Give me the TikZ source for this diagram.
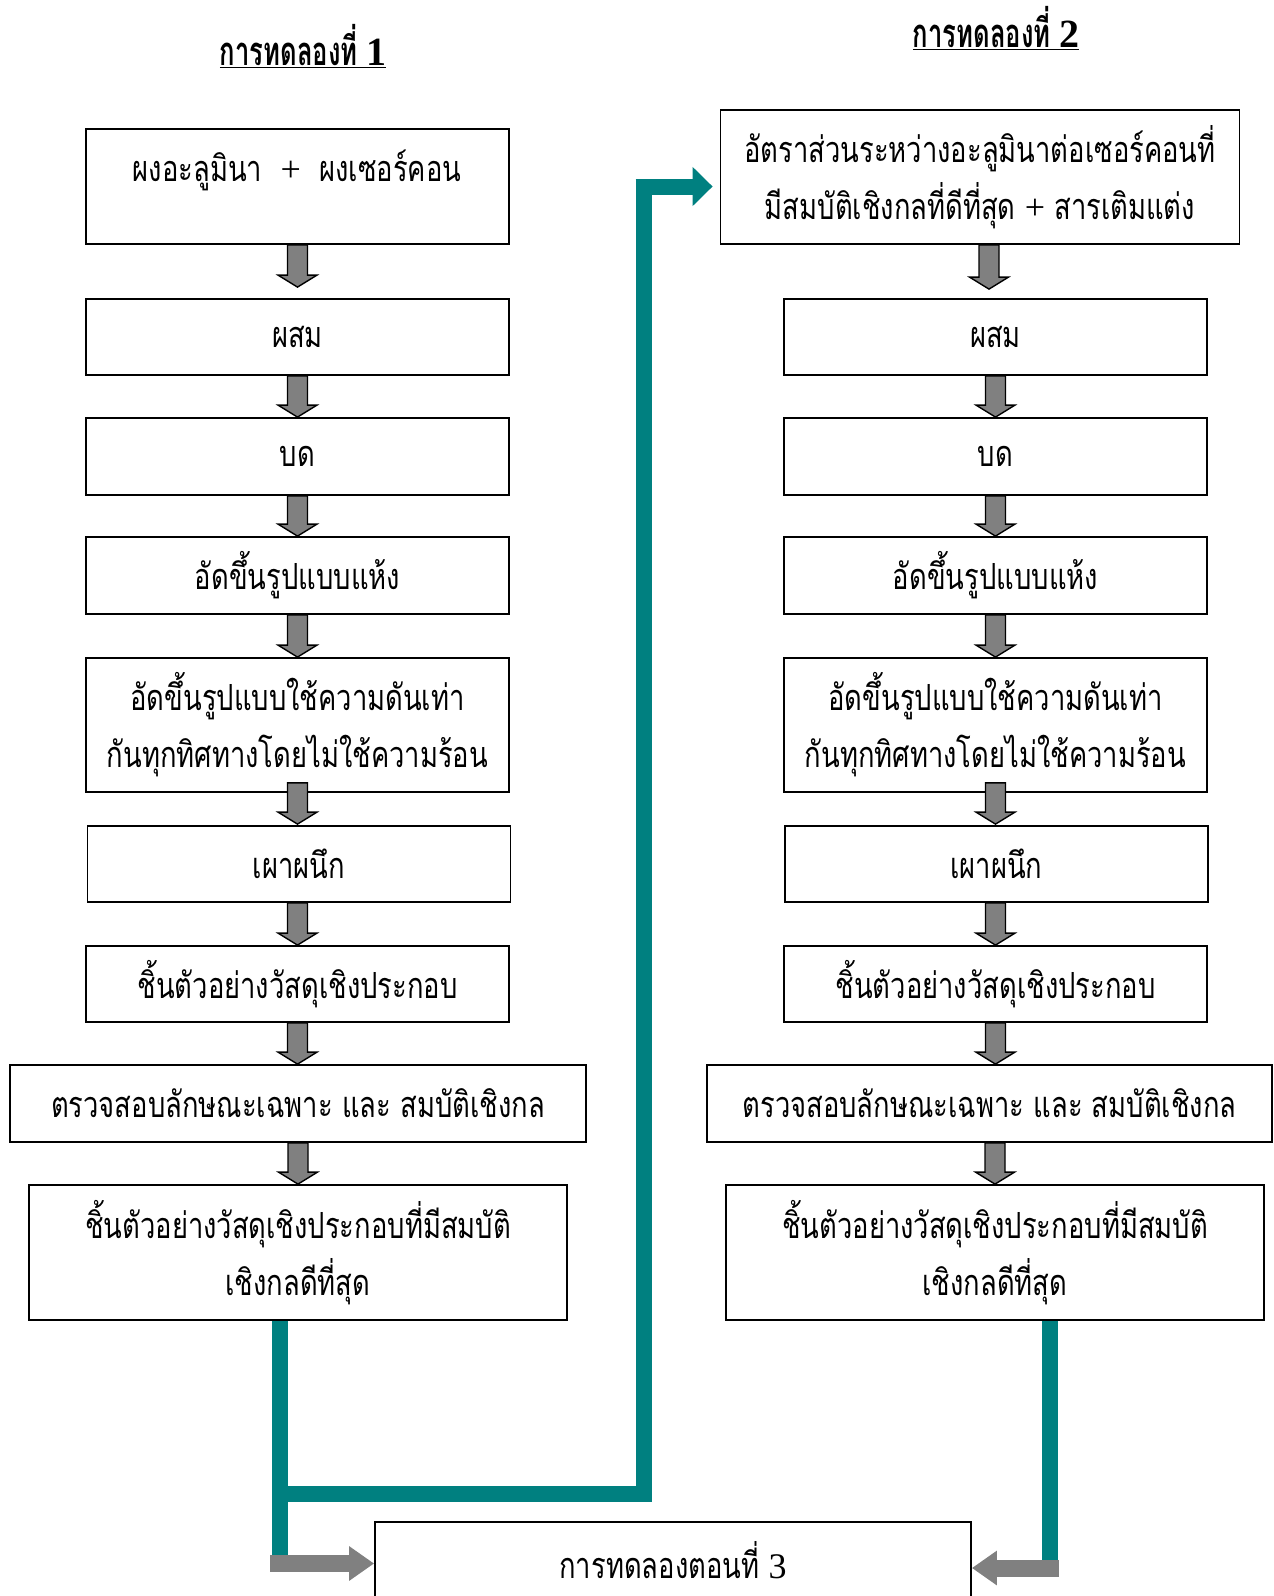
\documentclass[tikz,border=0pt]{standalone}
\usepackage{fontspec}
\usetikzlibrary{arrows.meta,calc}
\newfontfamily\loma[Script=Thai,FakeStretch=0.76]{Loma}
\newfontfamily\lomatitle[Script=Thai,FakeStretch=0.64]{Loma}
\newfontfamily\serif{Liberation Serif}
\definecolor{tealc}{RGB}{0,128,128}
\definecolor{grayc}{RGB}{128,128,128}
\newcommand\thaitext{\fontsize{36}{57}\selectfont\loma}
\newcommand\garrow[5][0]{%
  \filldraw[blockarrow] let \p1=(#2.south), \p2=(#3.north) in
  (\x1+#1pt-10pt,\y1+#4pt) -- (\x1+#1pt-10pt,\y2+12pt+#5pt) -- (\x1+#1pt-19.5pt,\y2+12pt+#5pt)
  -- (\x1+#1pt,\y2+#5pt) -- (\x1+#1pt+19.5pt,\y2+12pt+#5pt) -- (\x1+#1pt+10pt,\y2+12pt+#5pt)
  -- (\x1+#1pt+10pt,\y1+#4pt) -- cycle;}
\begin{document}
\begin{tikzpicture}[x=1pt,y=-1pt,
  box/.style={draw, line width=1.8pt, inner sep=0pt, align=center, font=\thaitext},
  titletext/.style={inner sep=0pt, font=\fontsize{40}{46}\selectfont\lomatitle\bfseries},
  plaintext/.style={inner sep=0pt, align=center, font=\thaitext},
  blockarrow/.style={fill=grayc, draw=black, line width=1.4pt, line join=miter},
  tealline/.style={draw=tealc, line width=16pt, line join=miter, line cap=butt},
  grayarrow/.style={draw=grayc, line width=17pt, line cap=butt, -{Triangle[length=25pt,width=33pt]}}]
\useasboundingbox (0,0) rectangle (1274,1596);
\clip (0,0) rectangle (1274,1596);
% titles
\node[titletext] (T1) at (303,46) {\underline{การทดลองที่ {\serif 1}}};
\node[titletext] (T2) at (996,28) {\underline{การทดลองที่ {\serif 2}}};
% left column
\node[box, minimum width=423, minimum height=115] (L1) at (297.5,186.5) {};
\node[plaintext] (L1t) at (297,170) {ผงอะลูมินา \ {\serif +} \ ผงเซอร์คอน};
\node[box, minimum width=423, minimum height=76] (L2) at (297.5,337) {ผสม};
\node[box, minimum width=423, minimum height=77] (L3) at (297.5,456.5) {บด};
\node[box, minimum width=423, minimum height=77] (L4) at (297.5,575.5) {อัดขึ้นรูปแบบแห้ง};
\node[box, minimum width=423, minimum height=134] (L5) at (297.5,725) {อัดขึ้นรูปแบบใช้ความดันเท่า\\กันทุกทิศทางโดยไม่ใช้ความร้อน};
\node[box, minimum width=423, minimum height=76] (L6) at (299,864) {เผาผนึก};
\node[box, minimum width=423, minimum height=76] (L7) at (297.5,984) {ชิ้นตัวอย่างวัสดุเชิงประกอบ};
\node[box, minimum width=576, minimum height=77] (L8) at (298,1103.5) {ตรวจสอบลักษณะเฉพาะ และ สมบัติเชิงกล};
\node[box, minimum width=538, minimum height=135] (L9) at (298,1252.5) {ชิ้นตัวอย่างวัสดุเชิงประกอบที่มีสมบัติ\\เชิงกลดีที่สุด};
% right column
\node[box, minimum width=519, minimum height=134] (R1) at (980,177) {อัตราส่วนระหว่างอะลูมินาต่อเซอร์คอนที่\\มีสมบัติเชิงกลที่ดีที่สุด {\serif +} สารเติมแต่ง};
\node[box, minimum width=423, minimum height=76] (R2) at (995.5,337) {ผสม};
\node[box, minimum width=423, minimum height=77] (R3) at (995.5,456.5) {บด};
\node[box, minimum width=423, minimum height=77] (R4) at (995.5,575.5) {อัดขึ้นรูปแบบแห้ง};
\node[box, minimum width=423, minimum height=134] (R5) at (995.5,725) {อัดขึ้นรูปแบบใช้ความดันเท่า\\กันทุกทิศทางโดยไม่ใช้ความร้อน};
\node[box, minimum width=423, minimum height=76] (R6) at (996.5,864) {เผาผนึก};
\node[box, minimum width=423, minimum height=76] (R7) at (995.5,984) {ชิ้นตัวอย่างวัสดุเชิงประกอบ};
\node[box, minimum width=565, minimum height=77] (R8) at (989.5,1103.5) {ตรวจสอบลักษณะเฉพาะ และ สมบัติเชิงกล};
\node[box, minimum width=538, minimum height=135] (R9) at (995,1252.5) {ชิ้นตัวอย่างวัสดุเชิงประกอบที่มีสมบัติ\\เชิงกลดีที่สุด};
% bottom
\node[box, minimum width=596, minimum height=88] (B) at (673,1566) {};
\node[plaintext] (Bt) at (673,1560) {การทดลองตอนที่ {\serif 3}};
% gray block arrows
\garrow{L1}{L2}{0}{11}
\garrow{L2}{L3}{0}{0}
\garrow{L3}{L4}{0}{0}
\garrow{L4}{L5}{0}{0}
\garrow{L5}{L6}{10}{1}
\garrow[-1.5]{L6}{L7}{0}{0}
\garrow{L7}{L8}{0}{0}
\garrow{L8}{L9}{0}{0}
\garrow[9]{R1}{R2}{0}{9}
\garrow{R2}{R3}{0}{0}
\garrow{R3}{R4}{0}{0}
\garrow{R4}{R5}{0}{0}
\garrow{R5}{R6}{10}{1}
\garrow[-1]{R6}{R7}{0}{0}
\garrow{R7}{R8}{0}{0}
\garrow[5.5]{R8}{R9}{0}{0}
% teal connectors
\draw[tealline] ($(L9.south)+(-18,0)$) -- ($(L9.south)+(-18,240)$);
\draw[tealline] ($(L9.south)+(-18,173)$) -| ($(R1.west)+(-76,9.5)$);
\draw[tealline, -{Triangle[length=20pt,width=38pt]}, shorten >=7pt] ($(R1.west)+(-84,9.5)$) -- ($(R1.west)+(0,9.5)$);
\draw[tealline] ($(R9.south)+(55,0)$) -- ($(R9.south)+(55,244)$);
% bottom gray arrows
\draw[grayarrow] ($(B.west)+(-104,-2.5)$) -- ($(B.west)+(0,-2.5)$);
\draw[grayarrow] ($(B.east)+(87,2)$) -- ($(B.east)+(0,2)$);
\end{tikzpicture}
\end{document}
